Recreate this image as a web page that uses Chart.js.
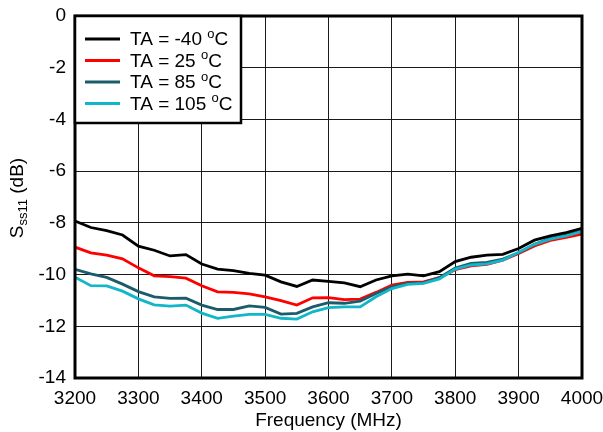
<!DOCTYPE html>
<html>
<head>
<meta charset="utf-8">
<script src="https://cdn.jsdelivr.net/npm/chart.js@4"></script>
<style>
html,body{margin:0;padding:0;background:#fff;}
#wrap{width:603px;height:432px;}
</style>
</head>
<body>
<div id="wrap"><canvas id="c" width="603" height="432"></canvas></div>
<script>
const freqMHz = [3200,3225,3250,3275,3300,3325,3350,3375,3400,3425,3450,3475,3500,3525,3550,3575,3600,3625,3650,3675,3700,3725,3750,3775,3800,3825,3850,3875,3900,3925,3950,3975,4000];
const sMinus40 = [-7.93,-8.18,-8.30,-8.47,-8.90,-9.06,-9.28,-9.23,-9.59,-9.79,-9.85,-9.95,-10.02,-10.28,-10.46,-10.21,-10.26,-10.32,-10.47,-10.21,-10.05,-9.98,-10.05,-9.89,-9.50,-9.33,-9.25,-9.22,-8.99,-8.67,-8.50,-8.38,-8.21];
const s25 = [-8.94,-9.16,-9.25,-9.39,-9.74,-10.05,-10.08,-10.14,-10.43,-10.67,-10.69,-10.75,-10.86,-11.01,-11.18,-10.90,-10.89,-10.97,-10.95,-10.69,-10.41,-10.30,-10.28,-10.12,-9.81,-9.66,-9.61,-9.44,-9.18,-8.89,-8.68,-8.56,-8.43];
const s85 = [-9.80,-9.97,-10.11,-10.37,-10.66,-10.86,-10.92,-10.91,-11.18,-11.35,-11.35,-11.21,-11.27,-11.53,-11.50,-11.25,-11.09,-11.11,-11.03,-10.73,-10.47,-10.34,-10.32,-10.12,-9.75,-9.57,-9.53,-9.40,-9.16,-8.83,-8.60,-8.47,-8.32];
const s105 = [-10.10,-10.43,-10.44,-10.64,-10.94,-11.17,-11.22,-11.18,-11.49,-11.69,-11.61,-11.54,-11.54,-11.69,-11.72,-11.44,-11.28,-11.25,-11.25,-10.86,-10.54,-10.38,-10.34,-10.17,-9.79,-9.63,-9.59,-9.44,-9.14,-8.83,-8.63,-8.50,-8.34];
const seriesTemps = ["-40", "25", "85", "105"];
const seriesColors = ["#000000", "#ff0000", "#1b5c6b", "#12b6c9"];
const xTitle = "Frequency (MHz)";
const yTitleMain = "S";
const yTitleSub = "ss11";
const yTitleUnit = " (dB)";

const FONT = "'Liberation Sans', Arial, Helvetica, sans-serif";
const allSeries = [sMinus40, s25, s85, s105];

const datasets = allSeries.map((vals, i) => ({
  label: "TA = " + seriesTemps[i] + " \u1D52C",
  data: freqMHz.map((f, k) => ({x: f, y: vals[k]})),
  borderColor: seriesColors[i],
  backgroundColor: seriesColors[i],
  borderWidth: 2.8,
  pointRadius: 0,
  tension: 0,
  fill: false,
  order: i === 0 ? 0 : (4 - i)
}));

const framePlugin = {
  id: 'frame',
  afterDraw(chart) {
    const ctx = chart.ctx;
    const a = chart.chartArea;
    ctx.save();
    ctx.strokeStyle = '#000';
    ctx.lineWidth = 3;
    ctx.strokeRect(a.left, a.top, a.right - a.left, a.bottom - a.top);
    const lx = a.left, ly = a.top, lw = 166, lh = 107;
    ctx.fillStyle = '#fff';
    ctx.fillRect(lx, ly, lw, lh);
    ctx.lineWidth = 2.5;
    ctx.strokeRect(lx, ly, lw, lh);
    const rows = [39, 60.5, 82, 103.5];
    seriesTemps.forEach((t, i) => {
      const y = rows[i];
      ctx.strokeStyle = seriesColors[i];
      ctx.lineWidth = 3;
      ctx.beginPath();
      ctx.moveTo(85, y);
      ctx.lineTo(120, y);
      ctx.stroke();
      ctx.fillStyle = '#000';
      ctx.textBaseline = 'middle';
      ctx.textAlign = 'left';
      ctx.font = '19px ' + FONT;
      let x = 130;
      const part1 = "TA = " + t + " ";
      ctx.fillText(part1, x, y + 1);
      x += ctx.measureText(part1).width;
      ctx.font = '13px ' + FONT;
      ctx.fillText("o", x, y - 5);
      x += ctx.measureText("o").width;
      ctx.font = '19px ' + FONT;
      ctx.fillText("C", x, y + 1);
    });
    ctx.translate(18, 198);
    ctx.rotate(-Math.PI / 2);
    ctx.fillStyle = '#000';
    ctx.textBaseline = 'middle';
    ctx.textAlign = 'left';
    ctx.font = '19px ' + FONT;
    const w1 = ctx.measureText(yTitleMain).width;
    ctx.font = '13px ' + FONT;
    const w2 = ctx.measureText(yTitleSub).width;
    ctx.font = '19px ' + FONT;
    const w3 = ctx.measureText(yTitleUnit).width;
    let sx = -(w1 + w2 + w3) / 2;
    ctx.fillText(yTitleMain, sx, 0);
    sx += w1;
    ctx.font = '13px ' + FONT;
    ctx.fillText(yTitleSub, sx, 5);
    sx += w2;
    ctx.font = '19px ' + FONT;
    ctx.fillText(yTitleUnit, sx, 0);
    ctx.restore();
  }
};

new Chart(document.getElementById('c'), {
  type: 'line',
  data: { datasets },
  options: {
    responsive: false,
    animation: false,
    devicePixelRatio: 1,
    layout: { padding: { left: 0, right: 21, top: 16, bottom: 0 } },
    plugins: { legend: { display: false }, tooltip: { enabled: false } },
    scales: {
      x: {
        type: 'linear',
        min: 3200, max: 4000,
        ticks: { stepSize: 100, color: '#000', font: { size: 19, family: FONT }, padding: 9, maxRotation: 0, autoSkip: false,
                 callback: (v) => String(v) },
        grid: { color: '#1a1a1a', lineWidth: 1, drawTicks: false },
        border: { display: false },
        title: { display: true, text: xTitle, color: '#000', font: { size: 19, family: FONT }, padding: { top: 0, bottom: 0 } },
        afterFit(scale) { scale.height = 54; scale.paddingLeft = 0; scale.paddingRight = 0; }
      },
      y: {
        min: -14, max: 0,
        ticks: { stepSize: 2, color: '#000', font: { size: 19, family: FONT }, padding: 9,
                 callback: (v) => String(v) },
        grid: { color: '#1a1a1a', lineWidth: 1, drawTicks: false },
        border: { display: false },
        afterFit(scale) { scale.width = 75; scale.paddingTop = 0; scale.paddingBottom = 0; }
      }
    }
  },
  plugins: [framePlugin]
});
</script>
</body>
</html>
